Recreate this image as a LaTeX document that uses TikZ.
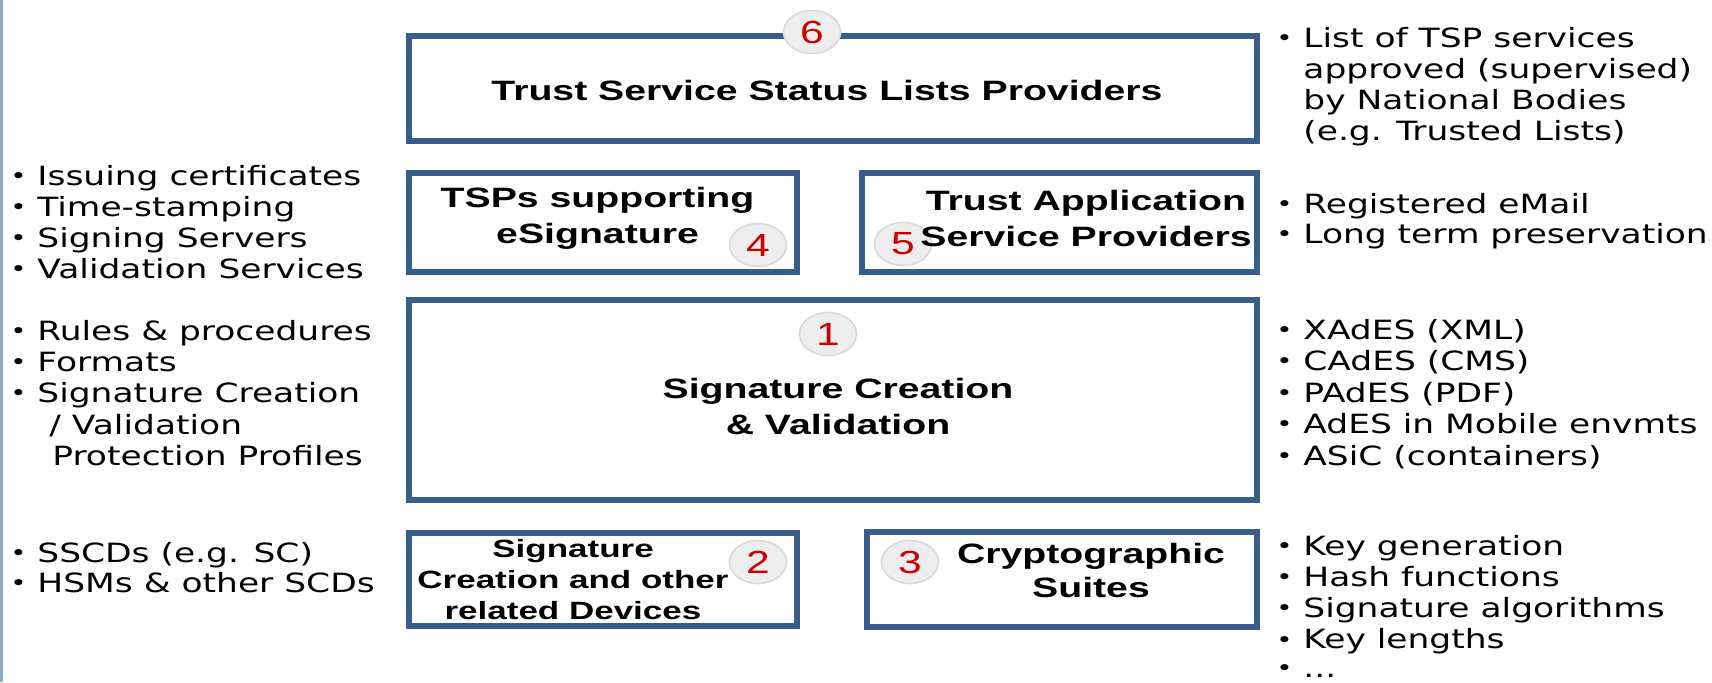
\documentclass[tikz,border=0pt]{standalone}
\usepackage{fontspec}
\setmainfont{DejaVu Sans}[FakeStretch=1.3]
\newfontfamily\titlefont{Liberation Sans}[FakeStretch=1.4]
\newfontfamily\numfont{Liberation Sans}[FakeStretch=1.33]
\usetikzlibrary{calc, positioning, shapes.geometric}
\definecolor{boxblue}{HTML}{385D8A}
\definecolor{numred}{HTML}{CC0000}
\definecolor{badgegray}{HTML}{EDEDED}
\definecolor{edgeblue}{HTML}{8FA8C8}
\newcommand\bul{\makebox[14.5pt][l]{\hspace{1pt}\raisebox{0.12ex}{\scalebox{0.8}{\textbullet}}}}

\begin{document}
\begin{tikzpicture}[x=0.5pt,y=-0.5pt,
        layerbox/.style={draw=boxblue, line width=3pt, inner sep=0pt},
        boxtitle/.style={font=\titlefont\bfseries\fontsize{14}{18}\selectfont, align=center, inner sep=0pt},
        badge/.style={ellipse, fill=badgegray, draw=gray!30, line width=0.8pt, minimum width=28.5pt, minimum height=21.5pt, inner sep=0pt, text=numred, font=\numfont\fontsize{16}{16}\selectfont},
        listitem/.style={anchor=base west, inner sep=0pt, font=\fontsize{13.25}{15.6}\selectfont}]
        \useasboundingbox (0,0) rectangle (1712,682);
        \draw[edgeblue, line width=1.5pt] (1.5,0) -- (1.5,682);

        % the six layers
        \node[layerbox, minimum width=424pt, minimum height=52.5pt] (tsl) at (833,88.5) {};
        \node[layerbox, minimum width=194pt, minimum height=49.5pt] (tsp) at (603,222.5) {};
        \node[badge] (n5) at (903,244) {5};
        \node[layerbox, minimum width=197.5pt, minimum height=49.5pt] (tasp) at (1059.5,222.5) {};
        \node[layerbox, minimum width=424pt, minimum height=100pt] (scv) at (833,400) {};
        \node[layerbox, minimum width=194pt, minimum height=46.5pt] (scd) at (603,579.5) {};
        \node[layerbox, minimum width=195pt, minimum height=47.5pt] (cs) at (1062,579.5) {};

        \node[badge] (n6) at (812,32) {6};
        \node[badge] (n4) at (758,245) {4};
        \node[badge] (n1) at (828,334) {1};
        \node[badge] (n2) at (758,562) {2};
        \node[badge] (n3) at (910,562) {3};

        \node[boxtitle, anchor=base] (tsl-t) at (827,100) {Trust Service Status Lists Providers};
        \node[boxtitle] (tsp-t) at (597.5,218) {TSPs supporting\\eSignature};
        \node[boxtitle] (tasp-t) at (1086,218) {Trust Application\\Service Providers};
        \node[boxtitle] (scv-t) at (838,406) {Signature Creation\\\& Validation};
        \node[boxtitle, font=\titlefont\bfseries\fontsize{12.5}{15.5}\selectfont] (scd-t) at (573,580) {Signature\\Creation and other\\related Devices};
        \node[boxtitle, font=\titlefont\bfseries\fontsize{14}{17}\selectfont] (cs-t) at (1091,570) {Cryptographic\\Suites};

        % left side lists
        \foreach \txt [count=\i from 0] in {Issuing certificates, Time-stamping, Signing Servers, Validation Services}
            \node[listitem] (tspl-\i) at (8,{185+31.1*\i}) {\bul\txt};
        \foreach \txt [count=\i from 0] in {Rules \& procedures, Formats, Signature Creation}
            \node[listitem] (scvl-\i) at (8,{340+31.3*\i}) {\bul\txt};
        \node[listitem] (scvl-3) at (49,434) {/ Validation};
        \node[listitem] (scvl-4) at (52,465) {Protection Profiles};
        \foreach \txt [count=\i from 0] in {SSCDs (e.g. SC), HSMs \& other SCDs}
            \node[listitem] (scdl-\i) at (8,{562+30*\i}) {\bul\txt};

        % right side lists
        \node[listitem] (tsll-0) at (1274,47) {\bul List of TSP services};
        \foreach \txt [count=\i from 1] in {approved (supervised), by National Bodies, (e.g. Trusted Lists)}
            \node[listitem] (tsll-\i) at (1303,{47+31*\i}) {\txt};
        \foreach \txt [count=\i from 0] in {Registered eMail, Long term preservation}
            \node[listitem] (taspl-\i) at (1274,{213+30*\i}) {\bul\txt};
        \foreach \txt [count=\i from 0] in {XAdES (XML), CAdES (CMS), PAdES (PDF), AdES in Mobile envmts, ASiC (containers)}
            \node[listitem] (scvr-\i) at (1274,{339+31.5*\i}) {\bul\txt};
        \foreach \txt [count=\i from 0] in {Key generation, Hash functions, Signature algorithms, Key lengths}
            \node[listitem] (csl-\i) at (1274,{555+31.25*\i}) {\bul\txt};
        \node[listitem] (csl-4) at (1274,677) {\bul...};
\end{tikzpicture}
\end{document}
